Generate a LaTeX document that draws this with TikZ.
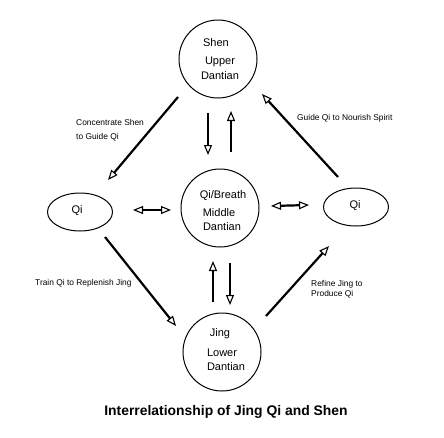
\documentclass[tikz,border=0pt]{standalone}
\usepackage{fontspec}
\setmainfont{Liberation Sans}
\usetikzlibrary{arrows.meta,shapes.geometric}
\begin{document}
\begin{tikzpicture}[x=1pt,y=-1pt,
  ring/.style={draw,circle,minimum size=78pt,inner sep=0pt,line width=1pt},
  oval/.style={draw,ellipse,minimum width=65pt,minimum height=38pt,inner sep=0pt,line width=1pt},
  big/.style={font=\fontsize{11}{12}\selectfont,inner sep=0pt},
  lbl/.style={font=\fontsize{8.4}{14}\selectfont,inner sep=0pt,anchor=west},
  arr/.style={line width=2.2pt,-{Triangle[open,length=10pt,width=8pt,line width=1.1pt]}},
  darr/.style={line width=2.2pt,{Triangle[open,length=10pt,width=8pt,line width=1.1pt]}-{Triangle[open,length=10pt,width=8pt,line width=1.1pt]}}]
\useasboundingbox (0,0) rectangle (444,437);
% circles
\node[ring] (upper) at (218,59) {};
\node[ring] (middle) at (220,208) {};
\node[ring] (lower) at (222,352) {};
\node[oval] (qil) at (80,212) {};
\node[oval] (qir) at (356,207) {};
% circle texts
\node[big] (t1) at (216,43) {Shen};
\node[big] (t2) at (220,62) {Upper};
\node[big] (t3) at (220,76) {Dantian};
\node[big] (t4) at (223,196) {Qi/Breath};
\node[big] (t5) at (219,213) {Middle};
\node[big] (t6) at (222,227) {Dantian};
\node[big] (t7) at (220,334) {Jing};
\node[big] (t8) at (222,353) {Lower};
\node[big] (t9) at (226,367) {Dantian};
\node[big] (qlt) at (77,211) {Qi};
\node[big] (qrt) at (355,206) {Qi};
% labels
\node[lbl,align=left] (l1) at (76,130) {Concentrate Shen\\to Guide Qi};
\node[lbl] (l2) at (297,118) {Guide Qi to Nourish Spirit};
\node[lbl] (l3) at (35,283) {Train Qi to Replenish Jing};
\node[lbl,align=left,font=\fontsize{8.4}{10.5}\selectfont] (l4) at (311,289) {Refine Jing to\\Produce Qi};
\node[inner sep=0pt,font=\bfseries\fontsize{13.9}{15}\selectfont] (title) at (226,412) {Interrelationship of Jing Qi and Shen};
% arrow end points
\coordinate (a1s) at (178,97);  \coordinate (a1e) at (108,180);
\coordinate (a2s) at (338,177); \coordinate (a2e) at (262,94);
\coordinate (a3s) at (208,113); \coordinate (a3e) at (208,155);
\coordinate (a4s) at (231,152); \coordinate (a4e) at (231,111);
\coordinate (a5s) at (133,210); \coordinate (a5e) at (171,210);
\coordinate (a6s) at (271,206); \coordinate (a6e) at (309,205);
\coordinate (a7s) at (105,237); \coordinate (a7e) at (176,326);
\coordinate (a8s) at (266,316); \coordinate (a8e) at (329,246);
\coordinate (a9s) at (213,302); \coordinate (a9e) at (213,261);
\coordinate (a10s) at (230,263); \coordinate (a10e) at (230,305);
\draw[arr] (a1s) -- (a1e);
\draw[arr] (a2s) -- (a2e);
\draw[arr] (a3s) -- (a3e);
\draw[arr] (a4s) -- (a4e);
\draw[darr] (a5s) -- (a5e);
\draw[darr] (a6s) -- (a6e);
\draw[arr] (a7s) -- (a7e);
\draw[arr] (a8s) -- (a8e);
\draw[arr] (a9s) -- (a9e);
\draw[arr] (a10s) -- (a10e);
\end{tikzpicture}
\end{document}
